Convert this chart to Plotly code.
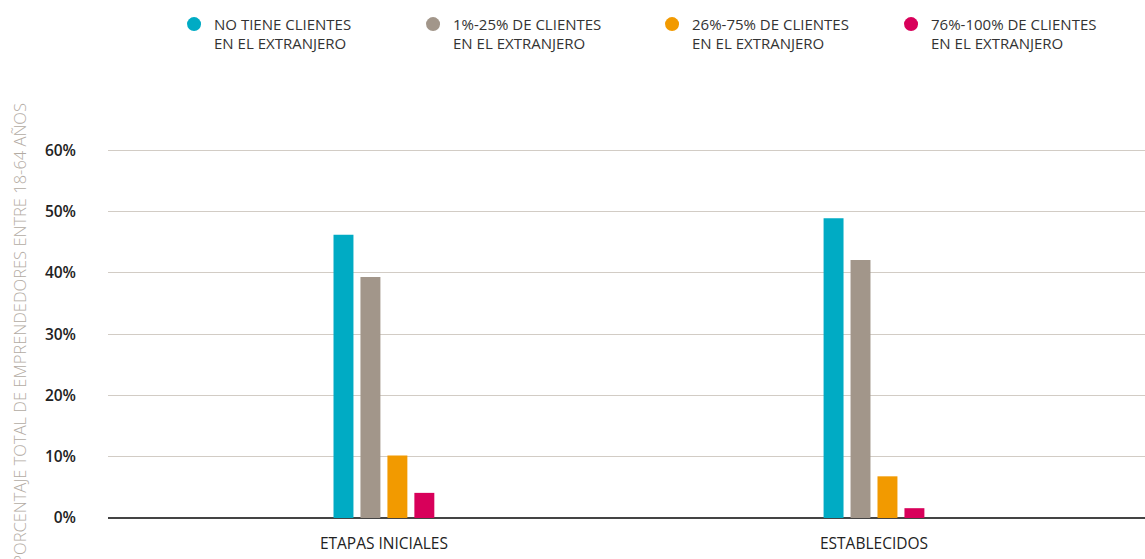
import plotly.graph_objects as go

# ── Data ──────────────────────────────────────────────────────────────────────
categories = ["ETAPAS INICIALES", "ESTABLECIDOS"]
series_names = [
    "NO TIENE CLIENTES<br>EN EL EXTRANJERO",
    "1%-25% DE CLIENTES<br>EN EL EXTRANJERO",
    "26%-75% DE CLIENTES<br>EN EL EXTRANJERO",
    "76%-100% DE CLIENTES<br>EN EL EXTRANJERO",
]
no_clientes = [46.2, 48.9]
clientes_1_25 = [39.3, 42.1]
clientes_26_75 = [10.2, 6.8]
clientes_76_100 = [4.1, 1.6]
y_ticks = [0, 10, 20, 30, 40, 50, 60]
y_tick_labels = ["0%", "10%", "20%", "30%", "40%", "50%", "60%"]

colors = ["#00abc4", "#a2968a", "#f29a00", "#d8005a"]
values = [no_clientes, clientes_1_25, clientes_26_75, clientes_76_100]

FONT = "Open Sans"

fig = go.Figure()

for name, vals, color in zip(series_names, values, colors):
    fig.add_bar(
        x=categories, y=vals, name=name,
        marker=dict(color=color, line=dict(width=0)),
        showlegend=False,
    )

# legend entries with round markers
for name, color in zip(series_names, colors):
    fig.add_scatter(
        x=[None], y=[None], mode="markers", name=name,
        marker=dict(color=color, size=14, symbol="circle"),
    )

fig.update_layout(
    width=1145, height=559,
    margin=dict(l=108, r=0, t=149, b=41),
    plot_bgcolor="white", paper_bgcolor="white",
    barmode="group", bargap=0.78, bargroupgap=0.26,
    font=dict(family=FONT, color="#333333"),
    legend=dict(
        orientation="h", x=0.152, xref="container", y=0.986, yref="container",
        xanchor="left", yanchor="top",
        entrywidth=194, entrywidthmode="pixels",
        font=dict(family=FONT, size=15, color="#333333"),
        valign="top", itemclick=False,
    ),
    xaxis=dict(
        type="category", range=[-0.563, 1.553],
        showgrid=False, showline=False, ticks="", ticklabelstandoff=14,
        tickfont=dict(family=FONT, size=15.5, color="#222222"),
    ),
    yaxis=dict(
        range=[0, 60.2], tickvals=y_ticks, ticktext=y_tick_labels,
        showgrid=True, gridcolor="#d2ccc5", gridwidth=1,
        zeroline=True, zerolinecolor="#444444", zerolinewidth=1.5,
        showline=False, ticks="", ticklabelstandoff=31,
        tickfont=dict(family=FONT, size=15.5, color="#222222", weight=600),
    ),
    annotations=[
        dict(
            text="PORCENTAJE TOTAL DE EMPRENDEDORES ENTRE 18-64 AÑOS",
            textangle=-90, xref="paper", yref="paper",
            x=-0.0857, y=0.5, xanchor="center", yanchor="middle",
            showarrow=False,
            font=dict(family=FONT, size=16.5, color="#b3aba3", weight=300),
        )
    ],
)

fig.write_html(
    "out.html",
    config={"displayModeBar": False},
    post_script="document.body.style.margin='0';document.body.style.overflow='hidden';",
)
